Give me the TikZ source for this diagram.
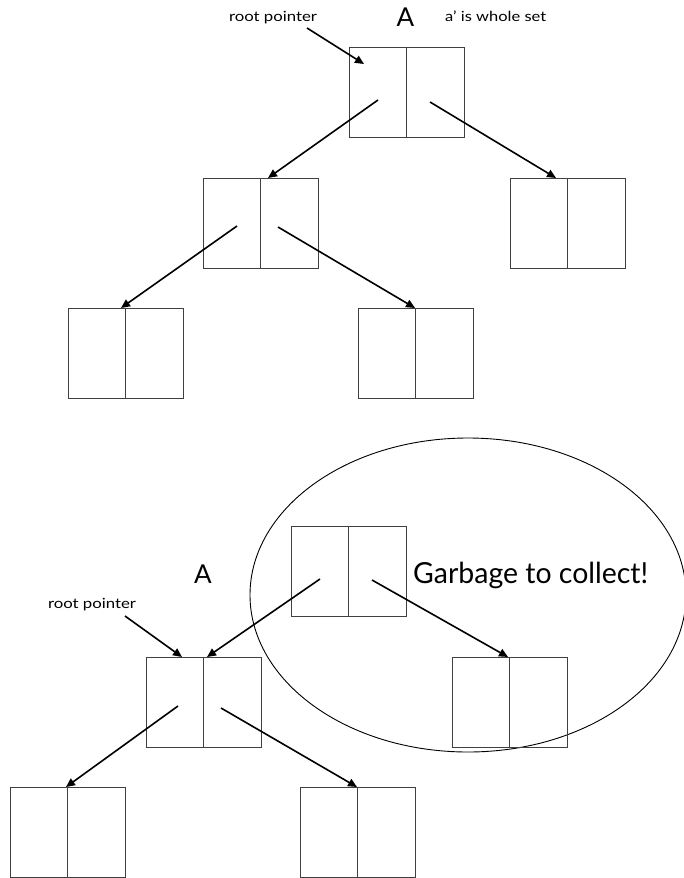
\documentclass[tikz,border=0pt]{standalone}
\usepackage{fontspec}
\usepackage{graphicx}
\setmainfont{Lato}
\usetikzlibrary{arrows.meta,shapes.geometric}
\newcommand{\fitw}[2]{\resizebox{#1}{\height}{#2}}
\begin{document}
\begin{tikzpicture}[x=1pt,y=-1pt,
  cell/.style={draw=black!75,line width=0.8pt,rectangle,minimum width=115pt,minimum height=90pt,anchor=north west,inner sep=0pt,outer sep=0pt},
  ptr/.style={line width=1.6pt,-{Triangle[length=9pt,width=8pt]}},
  rptext/.style={font=\fontsize{14}{16}\selectfont,inner sep=0pt,anchor=base},
  small/.style={font=\fontsize{14}{16}\selectfont,inner sep=0pt,anchor=base west},
  bigA/.style={font=\fontsize{26}{30}\selectfont,inner sep=0pt,anchor=base}]
\useasboundingbox (0,0) rectangle (683,878);
% ---------- top tree ----------
\node[cell] (r) at (349,47) {};
\node[cell] (c1) at (203,178) {};
\node[cell] (c2) at (510,178) {};
\node[cell] (g1) at (68,308) {};
\node[cell] (g2) at (358,308) {};
\foreach \n in {r,c1,c2,g1,g2} \draw[black!75,line width=0.8pt] (\n.north) -- (\n.south);
\node[rptext] (rp1) at (273,21) {\fitw{88pt}{root pointer}};
\node[bigA] (A1) at (405.5,27) {A};
\node[small] (ws) at (445,21.5) {\fitw{101pt}{a’ is whole set}};
\coordinate (rp1s) at (307,28);
\coordinate (rp1e) at (364,64);
\coordinate (rL) at (378,100);
\coordinate (rR) at (430,102);
\coordinate (c1L) at (237,226);
\coordinate (c1R) at (278,227);
\draw[ptr] (rp1s) -- (rp1e);
\draw[ptr] (rL) -- (c1.north -| 268,0);
\draw[ptr] (rR) -- (c2.north -| 556,0);
\draw[ptr] (c1L) -- (g1.north -| 121,0);
\draw[ptr] (c1R) -- (g2.north -| 415,0);
% ---------- bottom tree ----------
\node[draw,line width=0.9pt,ellipse,minimum width=436pt,minimum height=314pt,inner sep=0pt] (el) at (468,595) {};
\node[cell] (gb) at (291,526) {};
\node[cell] (gc) at (452,657) {};
\node[cell] (lr) at (146,657) {};
\node[cell] (l1) at (10,787) {};
\node[cell] (l2) at (300,787) {};
\foreach \n in {gb,gc,lr,l1,l2} \draw[black!75,line width=0.8pt] (\n.north) -- (\n.south);
\node[rptext] (rp2) at (92,608) {\fitw{88pt}{root pointer}};
\node[bigA] (A2) at (203,583) {A};
\node[font=\fontsize{29}{32}\selectfont,inner sep=0pt,anchor=base west] (gt) at (413,583) {\fitw{235pt}{Garbage to collect!}};
\coordinate (rp2s) at (125,616);
\coordinate (gbL) at (320,579);
\coordinate (gbR) at (372,580);
\coordinate (lrL) at (178,706);
\coordinate (lrR) at (221,708);
\draw[ptr] (rp2s) -- (lr.north -| 182,0);
\draw[ptr] (gbL) -- (lr.north -| 207,0);
\draw[ptr] (gbR) -- (gc.north -| 508,0);
\draw[ptr] (lrL) -- (l1.north -| 66,0);
\draw[ptr] (lrR) -- (l2.north -| 357,0);
\end{tikzpicture}
\end{document}
